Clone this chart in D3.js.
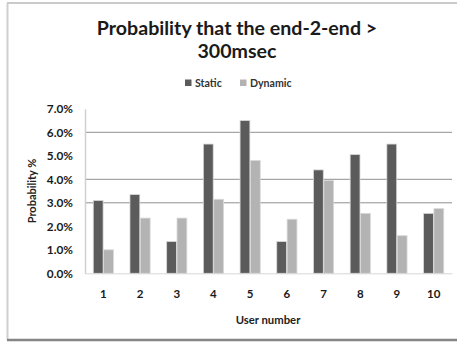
<!DOCTYPE html>
<html>
<head>
<meta charset="utf-8">
<script src="https://cdn.jsdelivr.net/npm/d3@7"></script>
<style>
  html, body { margin: 0; padding: 0; background: #fff; }
  svg { display: block; }
  text { font-family: Lato, "Open Sans", sans-serif; }
</style>
</head>
<body>
<script>
// Chart data
const users = ["1", "2", "3", "4", "5", "6", "7", "8", "9", "10"];
const staticVals = [3.1, 3.35, 1.35, 5.5, 6.5, 1.35, 4.4, 5.05, 5.5, 2.55];
const dynamicVals = [1.0, 2.35, 2.35, 3.15, 4.8, 2.3, 3.95, 2.55, 1.6, 2.75];
const seriesNames = ["Static", "Dynamic"];
const yTicks = [0, 1, 2, 3, 4, 5, 6, 7];
const gridTicks = [3, 4, 6];
const titleLines = ["Probability that the end-2-end >", "300msec"];

const W = 457, H = 342;
const colors = { Static: "#5b5b5b", Dynamic: "#b3b3b3" };

const svg = d3.select("body").append("svg").attr("width", W).attr("height", H);

// Frame
svg.append("line").attr("x1", 7).attr("x2", W).attr("y1", 3).attr("y2", 3)
  .attr("stroke", "#b8b8b8").attr("stroke-width", 1.5);
svg.append("line").attr("x1", 7.5).attr("x2", 7.5).attr("y1", 3).attr("y2", 340)
  .attr("stroke", "#cfcfcf").attr("stroke-width", 2);
svg.append("line").attr("x1", 7).attr("x2", W).attr("y1", 340).attr("y2", 340)
  .attr("stroke", "#858585").attr("stroke-width", 2.5);

// Title
svg.append("g").selectAll("text").data(titleLines).join("text")
  .attr("x", 237).attr("y", (d, i) => 35 + i * 23)
  .attr("text-anchor", "middle")
  .attr("font-size", 19.6).attr("font-weight", "bold").attr("fill", "#1a1a1a")
  .text(d => d);

// Scales
const x = d3.scaleBand().domain(users).range([85, 452]).paddingInner(0.45).paddingOuter(0.225);
const xs = d3.scaleBand().domain(seriesNames).range([0, x.bandwidth()]).paddingInner(0.05);
const y = d3.scaleLinear().domain([0, 7]).range([273.3, 108.8]);

// Gridlines
svg.append("g").selectAll("line").data(gridTicks).join("line")
  .attr("x1", 85).attr("x2", 452)
  .attr("y1", d => y(d)).attr("y2", d => y(d))
  .attr("stroke", "#8f8f8f").attr("stroke-width", 1);

// Axes
const yAxis = svg.append("g").attr("transform", "translate(85,0)")
  .call(d3.axisLeft(y).tickValues(yTicks).tickSize(0).tickPadding(12)
    .tickFormat(d => d3.format(".1f")(d) + "%"));
yAxis.select(".domain").attr("stroke", "#d0d0d0").attr("stroke-width", 1.5);
yAxis.selectAll("text").attr("font-size", 11.8).attr("font-weight", "bold")
  .attr("fill", "#1a1a1a").attr("font-family", "Lato, sans-serif");

const xAxis = svg.append("g").attr("transform", "translate(0,273.3)")
  .call(d3.axisBottom(x).tickSize(0).tickPadding(17));
xAxis.select(".domain").attr("stroke", "#d8d8d8").attr("stroke-width", 1);
xAxis.selectAll("text").attr("font-size", 11.5).attr("font-weight", "bold")
  .attr("fill", "#1a1a1a").attr("font-family", "Lato, sans-serif");

// Bars
const rows = users.map((u, i) => ({ user: u, Static: staticVals[i], Dynamic: dynamicVals[i] }));
svg.append("g").selectAll("g").data(rows).join("g")
  .attr("transform", d => `translate(${x(d.user)},0)`)
  .selectAll("rect")
  .data(d => seriesNames.map(k => ({ key: k, value: d[k] })))
  .join("rect")
  .attr("x", d => xs(d.key))
  .attr("width", xs.bandwidth())
  .attr("y", d => y(d.value))
  .attr("height", d => y(0) - y(d.value))
  .attr("fill", d => colors[d.key])
  .attr("stroke", "#d9d9d9").attr("stroke-width", 0.8);

// Axis titles
svg.append("text").attr("x", 268).attr("y", 324).attr("text-anchor", "middle")
  .attr("font-size", 11.3).attr("font-weight", "bold").attr("fill", "#222")
  .text("User number");
svg.append("text").attr("transform", "translate(36,191) rotate(-90)")
  .attr("text-anchor", "middle")
  .attr("font-size", 11).attr("font-weight", "bold").attr("fill", "#222")
  .text("Probability %");

// Legend
const legend = svg.append("g").attr("transform", "translate(185,83)");
const items = legend.selectAll("g").data(seriesNames).join("g")
  .attr("transform", (d, i) => `translate(${i * 55},0)`);
items.append("rect").attr("x", 0).attr("y", -3.5).attr("width", 6.5).attr("height", 6.5)
  .attr("fill", d => colors[d]);
items.append("text").attr("x", 10).attr("y", 4)
  .attr("font-size", 10.6).attr("font-weight", "bold").attr("fill", "#333")
  .text(d => d);
</script>
</body>
</html>
